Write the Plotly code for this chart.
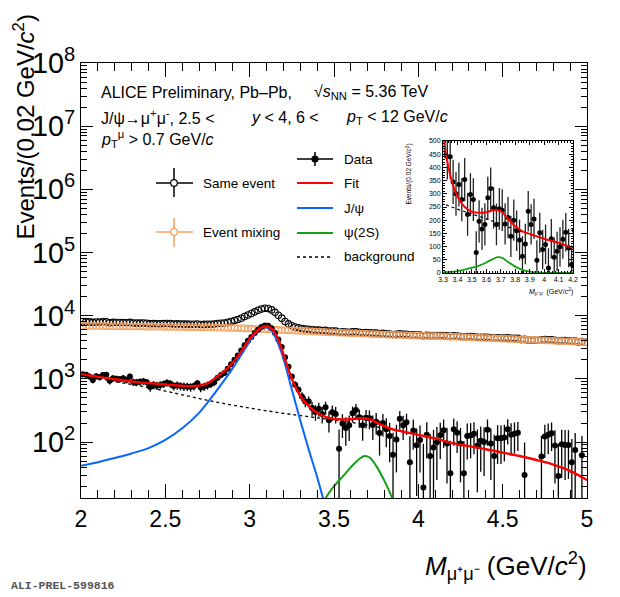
import numpy as np
import plotly.graph_objects as go

# ---- data ----
# 150 bins of 0.02 GeV/c2 between 2 and 5
mass_bins = np.round(np.arange(2.01, 5.0, 0.02), 2)

data_counts = [
    1180, 1160, 1090, 960, 1100, 1060, 1150, 1160, 930, 1020,
    1000, 990, 1020, 960, 1090, 890, 880, 900, 920, 880,
    740, 810, 780, 800, 830, 870, 840, 770, 790, 770,
    760, 755, 740, 770, 850, 730, 755, 790, 830, 880,
    1040, 1150, 1240, 1450, 1700, 2000, 2350, 2800, 3400, 4000,
    4600, 5300, 6000, 6600, 7000, 6900, 6300, 5300, 4200, 3200,
    2200, 1550, 1090, 810, 670, 525, 440, 440, 345, 300,
    335, 278, 354, 222, 297, 278, 78, 196, 167, 184,
    285, 320, 247, 184, 243, 238, 186, 210, 139, 200,
    160, 125, 63, 110, 234, 184, 205, 48, 152, 89,
    108, 19, 130, 60, 82, 99, 128, 154, 95, 32,
    160, 140, 95, 32, 125, 127, 135, 87, 105, 100,
    157, 95, 60, 115, 115, 118, 160, 130, 135, 140,
    None, 30, None, None, None, None, 59, 122, 130, 138,
    88, 29, 92, 90, 90, 48, 75, None, 62, None,
]
data_err = [
    120, 120, 119, 118, 120, 119, 120, 120, 118, 119,
    119, 118, 119, 118, 119, 117, 117, 117, 117, 116,
    115, 116, 116, 116, 116, 117, 116, 115, 115, 115,
    115, 115, 114, 115, 114, 114, 114, 115, 115, 116,
    116, 117, 117, 119, 120, 121, 123, 124, 126, 128,
    130, 132, 134, 136, 137, 137, 135, 133, 130, 127,
    120, 112, 105, 98, 92, 88, 86, 85, 84, 83,
    83, 82, 82, 81, 81, 81, 80, 80, 80, 80,
    80, 80, 79, 79, 79, 79, 78, 78, 78, 78,
    77, 77, 77, 77, 77, 76, 76, 76, 76, 75,
    75, 75, 75, 74, 74, 74, 74, 73, 73, 73,
    73, 73, 72, 72, 72, 72, 71, 71, 71, 71,
    70, 70, 70, 70, 70, 69, 69, 69, 69, 68,
    68, 68, 68, 67, 67, 67, 67, 66, 66, 66,
    66, 65, 65, 65, 64, 64, 64, 64, 63, 63,
]
same_event = [
    8080, 8050, 7970, 7830, 7960, 7910, 7990, 7990, 7750, 7830,
    7800, 7780, 7800, 7730, 7850, 7640, 7620, 7630, 7640, 7590,
    7440, 7500, 7460, 7470, 7490, 7520, 7480, 7400, 7410, 7380,
    7360, 7345, 7310, 7330, 7400, 7270, 7285, 7300, 7330, 7370,
    7510, 7600, 7670, 7860, 8090, 8370, 8690, 9120, 9690, 10260,
    10830, 11500, 12170, 12740, 13100, 12970, 12340, 11300, 10170, 9140,
    8100, 7420, 6920, 6610, 6440, 6265, 6140, 6110, 5985, 5900,
    5905, 5818, 5854, 5692, 5737, 5688, 5458, 5546, 5487, 5474,
    5545, 5560, 5457, 5374, 5403, 5378, 5296, 5300, 5199, 5240,
    5170, 5115, 5033, 5060, 5164, 5094, 5095, 4918, 5002, 4919,
    4918, 4819, 4910, 4830, 4832, 4839, 4848, 4854, 4785, 4702,
    4810, 4760, 4695, 4612, 4675, 4657, 4645, 4567, 4565, 4540,
    4567, 4485, 4430, 4465, 4445, 4428, 4450, 4400, 4385, 4370,
    4180, 4210, 4140, 4110, 4090, 4080, 4139, 4182, 4170, 4158,
    4088, 4009, 4052, 4030, 4010, 3948, 3955, 3840, 3902, 3800,
]
event_mixing = [
    6900, 6890, 6880, 6870, 6860, 6850, 6840, 6830, 6820, 6810,
    6800, 6790, 6780, 6770, 6760, 6750, 6740, 6730, 6720, 6710,
    6700, 6690, 6680, 6670, 6660, 6650, 6640, 6630, 6620, 6610,
    6600, 6590, 6570, 6560, 6550, 6540, 6530, 6510, 6500, 6490,
    6470, 6450, 6430, 6410, 6390, 6370, 6340, 6320, 6290, 6260,
    6230, 6200, 6170, 6140, 6100, 6070, 6040, 6000, 5970, 5940,
    5900, 5870, 5830, 5800, 5770, 5740, 5700, 5670, 5640, 5600,
    5570, 5540, 5500, 5470, 5440, 5410, 5380, 5350, 5320, 5290,
    5260, 5240, 5210, 5190, 5160, 5140, 5110, 5090, 5060, 5040,
    5010, 4990, 4970, 4950, 4930, 4910, 4890, 4870, 4850, 4830,
    4810, 4800, 4780, 4770, 4750, 4740, 4720, 4700, 4690, 4670,
    4650, 4620, 4600, 4580, 4550, 4530, 4510, 4480, 4460, 4440,
    4410, 4390, 4370, 4350, 4330, 4310, 4290, 4270, 4250, 4230,
    4200, 4180, 4160, 4140, 4120, 4100, 4080, 4060, 4040, 4020,
    4000, 3980, 3960, 3940, 3920, 3900, 3880, 3860, 3840, 3820,
]

# fit components, sampled from the drawn curves
fit_mass = [2.0, 2.1, 2.2, 2.3, 2.4, 2.5, 2.6, 2.65, 2.7, 2.75, 2.8, 2.85, 2.9, 2.95,
            3.0, 3.025, 3.05, 3.075, 3.1, 3.125, 3.15, 3.175, 3.2, 3.25, 3.3, 3.35,
            3.4, 3.45, 3.5, 3.55, 3.6, 3.65, 3.7, 3.75, 3.8, 3.85, 3.9, 4.0, 4.1,
            4.2, 4.3, 4.4, 4.5, 4.6, 4.7, 4.8, 4.9, 5.0]
fit_total = [1190, 1080, 985, 910, 855, 815, 775, 765, 780, 850, 1050, 1330, 1800, 2700,
             4300, 5200, 6000, 6600, 6900, 6400, 5300, 3900, 2450, 1000, 540, 370,
             290, 250, 232, 228, 230, 238, 234, 205, 177, 158, 148, 130, 114,
             96, 86, 77, 68, 60, 52, 44, 35, 25]
jpsi_mass = [2.0, 2.1, 2.2, 2.3, 2.4, 2.5, 2.6, 2.7, 2.8, 2.9, 2.95, 3.0, 3.025, 3.05,
             3.075, 3.1, 3.125, 3.15, 3.175, 3.2, 3.25, 3.3, 3.35, 3.4, 3.45, 3.5]
jpsi_curve = [42, 48, 56, 66, 80, 108, 165, 290, 630, 1480, 2400, 3900, 4900, 5800,
              6400, 6700, 6100, 4700, 3300, 2100, 680, 220, 76, 28, 9, 2.5]
psi2s_mass = [3.3, 3.35, 3.4, 3.45, 3.5, 3.55, 3.6, 3.65, 3.68, 3.71, 3.75, 3.8,
              3.85, 3.9, 3.95, 4.0, 4.1, 4.2]
psi2s_curve = [2, 4, 7.5, 13, 20, 28, 40, 54, 60, 57, 42, 24, 12, 5, 2, 0.8, 0.2, 0.05]
bkg_mass = [2.0, 2.2, 2.4, 2.6, 2.8, 3.0, 3.2, 3.4, 3.6, 3.8, 4.0, 4.2, 4.4, 4.6, 4.8, 5.0]
bkg_curve = [1150, 910, 730, 560, 430, 345, 285, 242, 205, 165, 130, 98, 77, 60, 44, 25]

# ---- frame geometry (pixels in the screenshot) ----
# the page body has an 8px margin, so the figure is made 8px smaller
PAGE_OFF = 8
W, H = 620 - PAGE_OFF, 597 - PAGE_OFF
L, R, T, B = 81, 587, 63, 498
FONT = "Liberation Sans, Arial, Helvetica, sans-serif"
ORANGE = "#f5a060"
RED = "#ff0000"
BLUE = "#0a64ff"
GREEN = "#14a014"


def px(x):
    return (x - L) / (R - L)


def py(y):
    return (B - y) / (B - T)


fig = go.Figure()

# ---- main panel ----
fig.add_trace(go.Scatter(
    x=mass_bins, y=same_event, mode="markers",
    marker=dict(symbol="circle-open", size=6.5, color="black", line=dict(width=1.1)),
))
fig.add_trace(go.Scatter(
    x=mass_bins, y=event_mixing, mode="markers",
    marker=dict(symbol="circle-open", size=6.5, color=ORANGE, line=dict(width=1.1)),
))
fig.add_trace(go.Scatter(
    x=mass_bins, y=data_counts, mode="markers",
    marker=dict(size=6, color="black"),
    error_y=dict(type="data", array=data_err, color="black", thickness=1.3, width=0),
))
fig.add_trace(go.Scatter(x=bkg_mass, y=bkg_curve, mode="lines", line_shape="spline",
                         line=dict(color="black", width=1.3, dash="dot")))
fig.add_trace(go.Scatter(x=jpsi_mass, y=jpsi_curve, mode="lines", line_shape="spline",
                         line=dict(color=BLUE, width=2)))
fig.add_trace(go.Scatter(x=psi2s_mass, y=psi2s_curve, mode="lines", line_shape="spline",
                         line=dict(color=GREEN, width=2)))
fig.add_trace(go.Scatter(x=fit_mass, y=fit_total, mode="lines", line_shape="spline",
                         line=dict(color=RED, width=2.4)))

# ---- inset (linear zoom on psi(2S) region) ----
fig.add_trace(go.Scatter(
    x=mass_bins, y=data_counts, mode="markers", xaxis="x2", yaxis="y2",
    marker=dict(size=5, color="black"),
    error_y=dict(type="data", array=data_err, color="#222", thickness=1.3, width=0),
))
fig.add_trace(go.Scatter(x=bkg_mass, y=bkg_curve, mode="lines", line_shape="spline",
                         xaxis="x2", yaxis="y2",
                         line=dict(color="black", width=1.2, dash="dot")))
fig.add_trace(go.Scatter(x=psi2s_mass, y=psi2s_curve, mode="lines", line_shape="spline",
                         xaxis="x2", yaxis="y2", line=dict(color=GREEN, width=1.8)))
fig.add_trace(go.Scatter(x=fit_mass, y=fit_total, mode="lines", line_shape="spline",
                         xaxis="x2", yaxis="y2", line=dict(color=RED, width=2)))

axis_common = dict(showgrid=False, zeroline=False, showline=True, linecolor="black",
                   mirror="allticks", ticks="inside", tickcolor="black",
                   automargin=False)

fig.update_layout(
    width=W, height=H,
    margin=dict(l=L - PAGE_OFF, r=620 - R, t=T - PAGE_OFF, b=597 - B),
    paper_bgcolor="white", plot_bgcolor="white",
    showlegend=False,
    font=dict(family=FONT, color="black"),
    xaxis=dict(range=[2, 5], tick0=2, dtick=0.5, ticklen=14, linewidth=1.3,
               tickfont=dict(size=23),
               minor=dict(dtick=0.1, ticks="inside", ticklen=8, tickcolor="black"),
               **axis_common),
    yaxis=dict(type="log", range=[1.114, 8], dtick=1, exponentformat="power",
               ticklen=12, linewidth=1.3, tickfont=dict(size=23),
               minor=dict(dtick="D1", ticks="inside", ticklen=6, tickcolor="black"),
               **axis_common),
    xaxis2=dict(domain=[px(443), px(573)], anchor="y2", range=[3.3, 4.2], dtick=0.1,
                ticklen=4, linewidth=1, tickfont=dict(size=7),
                minor=dict(dtick=0.02, ticks="inside", ticklen=2, tickcolor="black"),
                **axis_common),
    yaxis2=dict(domain=[py(273), py(141)], anchor="x2", range=[0, 500], dtick=50,
                ticklen=4, linewidth=1, tickfont=dict(size=7),
                minor=dict(dtick=10, ticks="inside", ticklen=2, tickcolor="black"),
                **axis_common),
)


def note(text, x, y, size, xanchor="left", yanchor="middle", **kw):
    fig.add_annotation(text=text, x=px(x), y=py(y), xref="paper", yref="paper",
                       xanchor=xanchor, yanchor=yanchor, showarrow=False,
                       font=dict(size=size, family=kw.pop("family", FONT),
                                 color=kw.pop("color", "black")), **kw)


# axis titles
note("Events/(0.02 GeV/<i>c</i><sup>2</sup>)", 24, 13, 24,
     xanchor="center", yanchor="top", textangle=-90)
note("<i>M</i><sub>μ⁺μ⁻</sub> (GeV/<i>c</i><sup>2</sup>)", 589, 566, 26, xanchor="right")
note("Events/(0.02 GeV/<i>c</i><sup>2</sup>)", 409, 142, 6.5,
     xanchor="center", yanchor="top", textangle=-90)
note("<i>M</i><sub>μ⁺μ⁻</sub> (GeV/<i>c</i><sup>2</sup>)", 575, 291, 7, xanchor="right")

# header text
note("ALICE Preliminary, Pb–Pb,", 99, 92, 16)
note("√<i>s</i><sub>NN</sub> = 5.36 TeV", 312, 92, 16)
note("J/ψ→μ<sup>+</sup>μ<sup>-</sup>, 2.5 &lt;", 99, 117, 16)
note("<i>y</i> &lt; 4, 6 &lt;", 249, 117, 16)
note("<i>p</i><sub>T</sub> &lt; 12 GeV/<i>c</i>", 344, 117, 16)
note("<i>p</i><sub>T</sub><sup>μ</sup> &gt; 0.7 GeV/<i>c</i>", 99, 139, 16)

note("<b>ALI-PREL-599816</b>", 9, 585, 11.5, family="Liberation Mono, monospace",
     color="#555")

# ---- hand-drawn legend (ROOT style) ----
def seg(x0, y0, x1, y1, color, width=1.5, dash="solid"):
    fig.add_shape(type="line", xref="paper", yref="paper",
                  x0=px(x0), y0=py(y0), x1=px(x1), y1=py(y1),
                  line=dict(color=color, width=width, dash=dash))


def dot(x, y, r, color, filled):
    fig.add_shape(type="circle", xref="paper", yref="paper",
                  x0=px(x - r), x1=px(x + r), y0=py(y + r), y1=py(y - r),
                  fillcolor=color if filled else "white",
                  line=dict(color=color, width=1.2))


seg(297, 159, 333, 159, "black")
seg(315, 152, 315, 166, "black")
dot(315, 159, 3, "black", True)
seg(297, 183, 333, 183, RED, 2.2)
seg(297, 208, 333, 208, BLUE, 2)
seg(297, 233, 333, 233, GREEN, 2)
seg(297, 257, 333, 257, "black", 1.3, "dot")
for label, y in [("Data", 159), ("Fit", 183), ("J/ψ", 208), ("ψ(2S)", 233),
                 ("background", 257)]:
    note(label, 342, y, 13.5)

seg(156, 183, 193, 183, "black")
seg(174, 168, 174, 197, "black")
dot(174, 183, 3.3, "black", False)
note("Same event", 201, 183, 13.5)
seg(156, 232, 193, 232, ORANGE)
seg(174, 218, 174, 247, ORANGE)
dot(174, 232, 3.3, ORANGE, False)
note("Event mixing", 201, 232, 13.5)

fig.write_html("out.html")
